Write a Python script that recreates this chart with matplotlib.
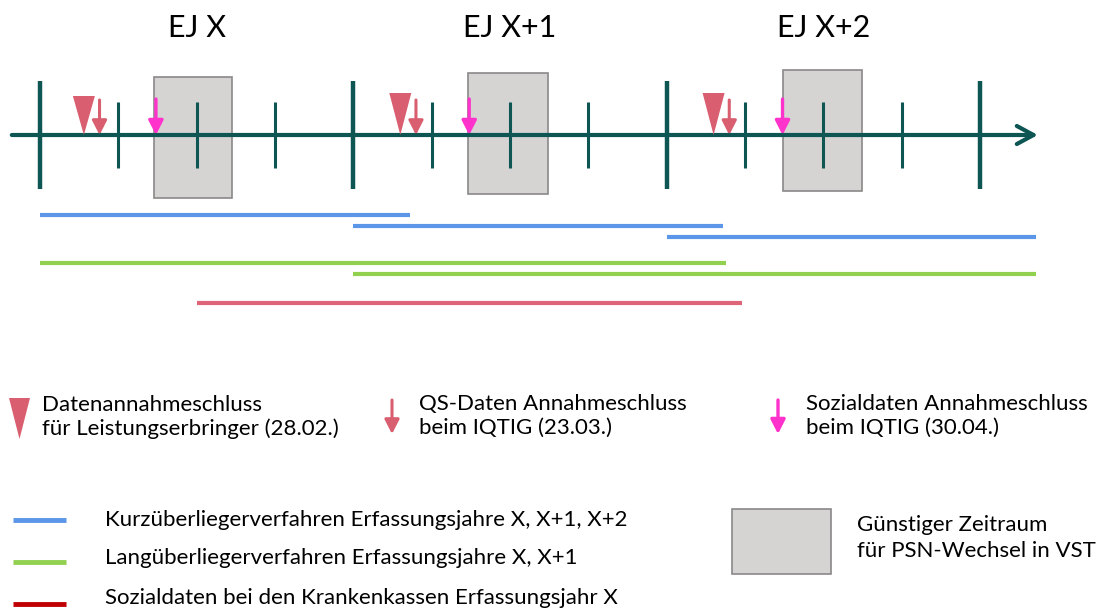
import matplotlib.pyplot as plt
from matplotlib.patches import Rectangle, Polygon

plt.rcParams['font.family'] = ['Lato', 'DejaVu Sans']

# Zeitachse in Jahren ab Beginn EJ X
year_labels = ['EJ X', 'EJ X+1', 'EJ X+2']
year_starts = [0, 1, 2, 3]
quarter_ticks = [0.25, 0.5, 0.75, 1.25, 1.5, 1.75, 2.25, 2.5, 2.75]

lf_deadline = [0.14, 1.15, 2.15]        # 28.02.
qs_deadline = [0.19, 1.20, 2.20]        # 23.03.
sozial_deadline = [0.37, 1.37, 2.37]    # 30.04.
psn_start = [0.365, 1.365, 2.37]
psn_end = [0.613, 1.621, 2.624]

kurz_start = [0, 1, 2]
kurz_end = [1.18, 2.18, 3.18]
lang_start = [0, 1]
lang_end = [2.19, 3.18]
sozial_start = [0.5]
sozial_end = [2.24]

axis_c = '#0D5654'
blue = '#5B96E8'
green = '#92D050'
red_line = '#DE6477'
red_dark = '#C00000'
tri_c = '#D95F70'
magenta = '#FF33CC'
box_fill = '#D6D3D3'
box_edge = '#8A8888'

W, H = 1103, 609
fig = plt.figure(figsize=(W / 100, H / 100), dpi=100)
ax = fig.add_axes([0, 0, 1, 1])
px_per_year = 313.3
x0 = 40
ax.set_xlim(-x0 / px_per_year, (W - x0) / px_per_year)
ax.set_ylim(H, 0)
ax.axis('off')

leg = fig.add_axes([0, 0, 1, 1])
leg.set_xlim(0, W)
leg.set_ylim(H, 0)
leg.axis('off')
leg.patch.set_alpha(0)

axis_y = 135

# PSN-Zeiträume (Kästen)
box_tops = [77, 73, 70]
for s, e, t in zip(psn_start, psn_end, box_tops):
    ax.add_patch(Rectangle((s, t), e - s, 121, facecolor=box_fill,
                           edgecolor=box_edge, lw=1.2, zorder=1))

# Achse
ax.annotate('', xy=(3.185, axis_y), xytext=(-0.09, axis_y),
            arrowprops=dict(arrowstyle='->,head_length=1.2,head_width=0.65',
                            lw=3, color=axis_c, shrinkA=0, shrinkB=0,
                            mutation_scale=10), zorder=3)
ax.vlines(year_starts, 81, 189, color=axis_c, lw=3.2, zorder=3)
ax.vlines(quarter_ticks, 102, 168, color=axis_c, lw=2.2, zorder=3)

for i, lab in enumerate(year_labels):
    ax.text(year_starts[i] + 0.5, 28, lab, ha='center', va='center',
            fontsize=22, color='black')

# Fristen
tri_tops = [96, 93, 93]
hw = 11 / px_per_year
for x, t in zip(lf_deadline, tri_tops):
    ax.add_patch(Polygon([(x - hw, t), (x + hw, t), (x, axis_y)],
                         closed=True, facecolor=tri_c, edgecolor='none', zorder=4))

arrow_style = '-|>,head_length=0.43,head_width=0.22'
for x in qs_deadline:
    ax.annotate('', xy=(x, axis_y), xytext=(x, 100),
                arrowprops=dict(arrowstyle=arrow_style, lw=2.2, color=tri_c,
                                shrinkA=0, shrinkB=0, mutation_scale=20), zorder=4)
for x in sozial_deadline:
    ax.annotate('', xy=(x, axis_y), xytext=(x, 99),
                arrowprops=dict(arrowstyle=arrow_style, lw=2.4, color=magenta,
                                shrinkA=0, shrinkB=0, mutation_scale=20), zorder=4)

# Verfahrenszeiträume
ax.hlines([215, 226, 237], kurz_start, kurz_end, color=blue, lw=3)
ax.hlines([263, 274], lang_start, lang_end, color=green, lw=3)
ax.hlines([303], sozial_start, sozial_end, color=red_line, lw=3)

# Legende
fs = 16
ls = 1.25
leg.add_patch(Polygon([(9, 398), (30, 398), (19.5, 439)], closed=True,
                      facecolor=tri_c, edgecolor='none'))
leg.text(42, 417, 'Datenannahmeschluss\nfür Leistungserbringer (28.02.)',
         ha='left', va='center', fontsize=fs, linespacing=ls)

leg.annotate('', xy=(392, 434), xytext=(392, 400),
             arrowprops=dict(arrowstyle=arrow_style, lw=2.2, color=tri_c,
                             shrinkA=0, shrinkB=0, mutation_scale=20))
leg.text(419, 416, 'QS-Daten Annahmeschluss\nbeim IQTIG (23.03.)',
         ha='left', va='center', fontsize=fs, linespacing=ls)

leg.annotate('', xy=(778, 434), xytext=(778, 400),
             arrowprops=dict(arrowstyle=arrow_style, lw=2.4, color=magenta,
                             shrinkA=0, shrinkB=0, mutation_scale=20))
leg.text(806, 416, 'Sozialdaten Annahmeschluss\nbeim IQTIG (30.04.)',
         ha='left', va='center', fontsize=fs, linespacing=ls)

leg.hlines([520], 13, 66, color=blue, lw=3.5)
leg.hlines([562], 13, 66, color=green, lw=3.5)
leg.hlines([604], 13, 66, color=red_dark, lw=3.5)
leg.text(105, 520, 'Kurzüberliegerverfahren Erfassungsjahre X, X+1, X+2',
         ha='left', va='center', fontsize=fs)
leg.text(105, 558, 'Langüberliegerverfahren Erfassungsjahre X, X+1',
         ha='left', va='center', fontsize=fs)
leg.text(105, 598, 'Sozialdaten bei den Krankenkassen Erfassungsjahr X',
         ha='left', va='center', fontsize=fs)

leg.add_patch(Rectangle((732, 509), 99, 65, facecolor=box_fill,
                        edgecolor=box_edge, lw=1.2))
leg.text(857, 538, 'Günstiger Zeitraum\nfür PSN-Wechsel in VST',
         ha='left', va='center', fontsize=fs, linespacing=1.4)

fig.savefig('out.png', dpi=100)
